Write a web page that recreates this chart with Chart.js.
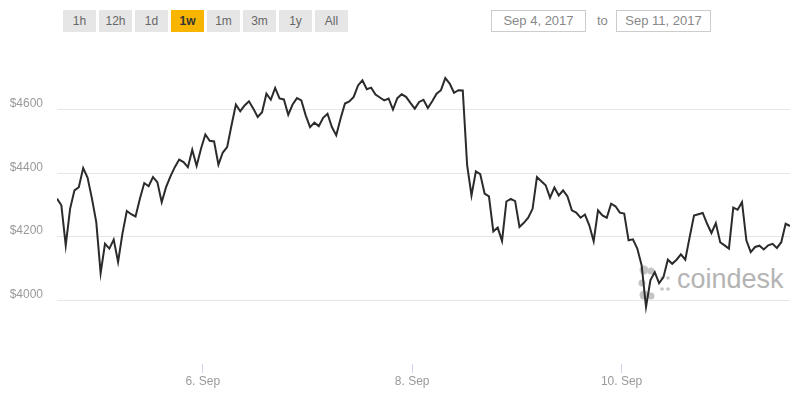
<!DOCTYPE html>
<html>
<head>
<meta charset="utf-8">
<script src="https://cdn.jsdelivr.net/npm/chart.js@4/dist/chart.umd.min.js"></script>
<style>
  body { margin: 0; background: #fff; font-family: "Liberation Sans", Arial, sans-serif; }
  #wrap { position: relative; width: 800px; height: 400px; overflow: hidden; }
  #chart { position: absolute; left: 0; top: 0; z-index: 2; }
  .btn { position: absolute; top: 10px; width: 33px; height: 22px; line-height: 22px; background: #e6e6e6;
         color: #666; font-size: 12px; text-align: center; }
  .btn.on { background: #f7b500; color: #333; font-weight: bold; }
  .date { position: absolute; top: 10px; width: 93px; height: 20px; line-height: 20px; border: 1px solid #ccc;
          color: #888; font-size: 13px; text-align: center; }
  #to { position: absolute; top: 10px; left: 597px; line-height: 22px; color: #888; font-size: 13px; }
  #mark { position: absolute; left: 636px; top: 262px; z-index: 1; }
  #markText { position: absolute; left: 677px; top: 264px; z-index: 1; font-size: 27px; color: #b4b4b4; }
</style>
</head>
<body>
<div id="wrap">
  <div id="buttons"></div>
  <div class="date" style="left:491px">Sep 4, 2017</div>
  <div id="to">to</div>
  <div class="date" style="left:616px">Sep 11, 2017</div>
  <svg id="mark" width="40" height="42">
    <circle cx="8" cy="8" r="4.5" fill="#c4c4c4"/>
    <circle cx="15" cy="9" r="3.5" fill="#c4c4c4"/>
    <circle cx="6" cy="21" r="3.5" fill="#c4c4c4"/>
    <circle cx="8" cy="33" r="4.5" fill="#c4c4c4"/>
    <circle cx="15" cy="34" r="3.5" fill="#c4c4c4"/>
    <circle cx="26" cy="16" r="1.8" fill="#c4c4c4"/>
    <circle cx="32" cy="16" r="1.8" fill="#c4c4c4"/>
    <circle cx="26" cy="27" r="1.8" fill="#c4c4c4"/>
    <circle cx="32" cy="27" r="1.8" fill="#c4c4c4"/>
  </svg>
  <div id="markText">coindesk</div>
  <canvas id="chart" width="800" height="400"></canvas>
</div>
<script>
// ranges shown as buttons
const ranges = ['1h', '12h', '1d', '1w', '1m', '3m', '1y', 'All'];
const activeRange = '1w';

// hourly BTC price, first point ~ Sep 4 14:36
const startHour = 14.6; // hours after Sep 4 00:00
const prices = [
  4320, 4299, 4173, 4288, 4346, 4356, 4416, 4386, 4321, 4246,
  4086, 4178, 4163, 4191, 4121, 4210, 4281, 4271, 4264, 4320,
  4369, 4359, 4388, 4372, 4309, 4356, 4390, 4419, 4443, 4435,
  4419, 4474, 4423, 4477, 4522, 4502, 4500, 4427, 4465, 4482,
  4551, 4616, 4595, 4613, 4626, 4603, 4577, 4592, 4650, 4631,
  4668, 4635, 4632, 4584, 4616, 4636, 4629, 4582, 4545, 4559,
  4548, 4574, 4587, 4545, 4519, 4572, 4619, 4626, 4640, 4676,
  4692, 4664, 4669, 4647, 4638, 4629, 4635, 4600, 4636, 4648,
  4640, 4621, 4603, 4624, 4631, 4605, 4626, 4650, 4661, 4699,
  4682, 4653, 4661, 4660, 4425, 4330, 4406, 4397, 4336, 4327,
  4217, 4229, 4187, 4311, 4319, 4312, 4231, 4244, 4260, 4288,
  4388, 4375, 4362, 4323, 4355, 4330, 4346, 4327, 4283, 4276,
  4260, 4270, 4236, 4186, 4283, 4267, 4260, 4304, 4296, 4276,
  4273, 4189, 4192, 4163, 4110, 3979, 4063, 4089, 4054, 4073,
  4128, 4115, 4128, 4145, 4128, 4199, 4267, 4271, 4275, 4241,
  4212, 4243, 4183, 4173, 4163, 4292, 4285, 4309, 4189, 4152,
  4168, 4172, 4160, 4173, 4178, 4165, 4183, 4241, 4234
];

// x ticks: midnight of these days (hours after Sep 4 00:00)
const dayTicks = [48, 96, 144];
const dayLabels = ['6. Sep', '8. Sep', '10. Sep'];
const yTicks = [4000, 4200, 4400, 4600];

const btnBox = document.getElementById('buttons');
ranges.forEach((r, i) => {
    const d = document.createElement('div');
    d.className = 'btn' + (r === activeRange ? ' on' : '');
    d.style.left = (63 + i * 36) + 'px';
    d.textContent = r;
    btnBox.appendChild(d);
});

const points = prices.map((p, i) => ({ x: startHour + i, y: p }));

const ctx = document.getElementById('chart').getContext('2d');
const priceChart = new Chart(ctx, {
    type: 'line',
    data: {
        datasets: [{
            data: points,
            borderColor: '#2b2b2b',
            borderWidth: 2,
            pointRadius: 0,
            tension: 0,
            fill: false
        }]
    },
    options: {
        responsive: false,
        devicePixelRatio: 1,
        animation: false,
        layout: { padding: { left: 8, right: 10, top: 46, bottom: 6 } },
        plugins: { legend: { display: false }, tooltip: { enabled: false } },
        scales: {
            x: {
                type: 'linear',
                min: startHour,
                max: startHour + prices.length - 1,
                afterBuildTicks: axis => { axis.ticks = dayTicks.map(v => ({ value: v })); },
                afterFit: axis => { axis.height = 30; },
                border: { display: false },
                grid: { drawOnChartArea: false, tickLength: 9, color: '#ccd6eb' },
                ticks: {
                    padding: 1,
                    color: '#999',
                    font: { family: 'Liberation Sans', size: 12 },
                    maxRotation: 0,
                    callback: v => dayLabels[dayTicks.indexOf(v)] || ''
                }
            },
            y: {
                min: 3800,
                max: 4800,
                afterBuildTicks: axis => { axis.ticks = yTicks.map(v => ({ value: v })); },
                afterFit: axis => { axis.width = 49; },
                border: { display: false },
                grid: { drawTicks: false, color: '#e6e6e6', lineWidth: 1 },
                ticks: {
                    padding: 14,
                    labelOffset: -6,
                    color: '#999',
                    font: { family: 'Liberation Sans', size: 12 },
                    callback: v => '$' + v
                }
            }
        }
    }
});
</script>
</body>
</html>
